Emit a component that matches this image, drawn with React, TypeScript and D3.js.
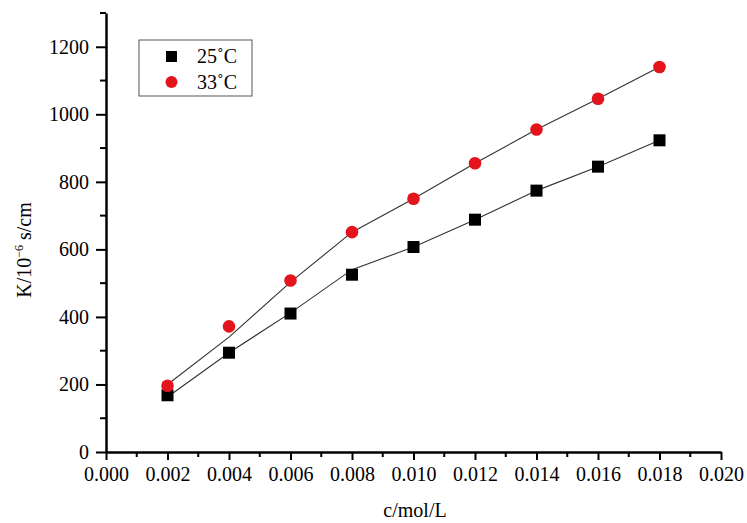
// @ts-nocheck
import React, { useEffect, useRef } from "react";
import * as d3 from "d3";

// concentration, mol/L
const conc = [0.002, 0.004, 0.006, 0.008, 0.01, 0.012, 0.014, 0.016, 0.018];
// measured K (10^-6 s/cm)
const k25 = [168, 294, 410, 525, 607, 688, 774, 845, 923];
const k33 = [196, 372, 508, 651, 750, 855, 955, 1046, 1140];
// drawn trend lines
const fit25 = [163, 294, 412, 540, 607, 688, 774, 845, 923];
const fit33 = [200, 340, 503, 651, 750, 855, 955, 1046, 1140];

const xTicks = [0, 0.002, 0.004, 0.006, 0.008, 0.01, 0.012, 0.014, 0.016, 0.018, 0.02];
const yTicks = [0, 200, 400, 600, 800, 1000, 1200];

const W = 747;
const H = 523;

const Chart = () => {
  const svgRef = useRef();

  useEffect(() => {
    const margin = { top: 13, right: 26, bottom: 71, left: 106 };
    const width = W - margin.left - margin.right;
    const height = H - margin.top - margin.bottom;
    const font = "'Liberation Serif', 'Times New Roman', serif";

    d3.select(svgRef.current).selectAll("*").remove();

    const svg = d3
      .select(svgRef.current)
      .append("g")
      .attr("transform", `translate(${margin.left},${margin.top})`);

    const x = d3.scaleLinear().domain([0, 0.02]).range([0, width]);
    const y = d3.scaleLinear().domain([0, 1300]).range([height, 0]);

    // minor ticks
    const xMinor = d3.range(0.001, 0.02, 0.002);
    const yMinor = d3.range(100, 1400, 200);

    const xAxis = svg
      .append("g")
      .attr("transform", `translate(0,${height})`)
      .call(
        d3.axisBottom(x).tickValues(xTicks).tickFormat(d3.format(".3f")).tickSize(8).tickSizeOuter(0).tickPadding(7),
      );
    const yAxis = svg
      .append("g")
      .call(d3.axisLeft(y).tickValues(yTicks).tickFormat(d3.format("d")).tickSize(10).tickSizeOuter(0).tickPadding(7));

    [xAxis, yAxis].forEach((a) => {
      a.attr("font-family", font).attr("font-size", 20);
      a.select(".domain").attr("stroke-width", 2.5);
      a.selectAll(".tick line").attr("stroke-width", 2);
      a.selectAll(".tick text")
        .attr("fill", "#000")
        .style("font-family", font)
        .style("font-size", "20px");
    });

    xAxis
      .selectAll(".minor")
      .data(xMinor)
      .enter()
      .append("line")
      .attr("x1", (d) => x(d))
      .attr("x2", (d) => x(d))
      .attr("y1", 0)
      .attr("y2", 5)
      .attr("stroke", "#000")
      .attr("stroke-width", 2);

    yAxis
      .selectAll(".minor")
      .data(yMinor)
      .enter()
      .append("line")
      .attr("x1", 0)
      .attr("x2", -6)
      .attr("y1", (d) => y(d))
      .attr("y2", (d) => y(d))
      .attr("stroke", "#000")
      .attr("stroke-width", 2);

    // trend lines
    const line = d3
      .line()
      .x((d) => x(d[0]))
      .y((d) => y(d[1]));

    [fit25, fit33].forEach((f) => {
      svg
        .append("path")
        .datum(conc.map((c, i) => [c, f[i]]))
        .attr("d", line)
        .attr("fill", "none")
        .attr("stroke", "#333")
        .attr("stroke-width", 1.1);
    });

    // markers
    svg
      .selectAll(".sq")
      .data(conc.map((c, i) => [c, k25[i]]))
      .enter()
      .append("rect")
      .attr("x", (d) => x(d[0]) - 6)
      .attr("y", (d) => y(d[1]) - 6)
      .attr("width", 12)
      .attr("height", 12)
      .attr("fill", "#000");

    svg
      .selectAll(".ci")
      .data(conc.map((c, i) => [c, k33[i]]))
      .enter()
      .append("circle")
      .attr("cx", (d) => x(d[0]))
      .attr("cy", (d) => y(d[1]))
      .attr("r", 6.3)
      .attr("fill", "#e3141c");

    // legend
    const lg = svg.append("g").attr("transform", `translate(${139 - margin.left},${40 - margin.top})`);
    lg.append("rect")
      .attr("width", 113)
      .attr("height", 56)
      .attr("fill", "#fff")
      .attr("stroke", "#555")
      .attr("stroke-width", 1);
    lg.append("rect").attr("x", 27).attr("y", 11).attr("width", 11).attr("height", 11).attr("fill", "#000");
    lg.append("circle").attr("cx", 32.5).attr("cy", 42).attr("r", 6).attr("fill", "#e3141c");
    [["25˚C", 23], ["33˚C", 49]].forEach(([t, yy]) => {
      lg.append("text")
        .attr("x", 58)
        .attr("y", yy)
        .style("font-family", font)
        .style("font-size", "20px")
        .text(t);
    });

    // axis titles
    svg
      .append("text")
      .attr("x", 415 - margin.left)
      .attr("y", 517 - margin.top)
      .style("font-family", font)
      .style("font-size", "20px")
      .style("text-anchor", "middle")
      .text("c/mol/L");

    const yl = svg
      .append("text")
      .attr("transform", `translate(${31 - margin.left},${250 - margin.top}) rotate(-90)`)
      .style("font-family", font)
      .style("font-size", "20px")
      .style("text-anchor", "middle");
    yl.append("tspan").text("K/10");
    yl.append("tspan").attr("dy", -8).style("font-size", "12px").text("−6");
    yl.append("tspan").attr("dy", 8).text(" s/cm");
  }, []);

  return <svg ref={svgRef} width={W} height={H} style={{ display: "block" }}></svg>;
};

export default function App() {
  return (
    <div
      style={{
        position: "fixed",
        left: 0,
        top: 0,
        width: W,
        height: H,
        overflow: "hidden",
        background: "#fff",
      }}
    >
      <Chart />
    </div>
  );
}
